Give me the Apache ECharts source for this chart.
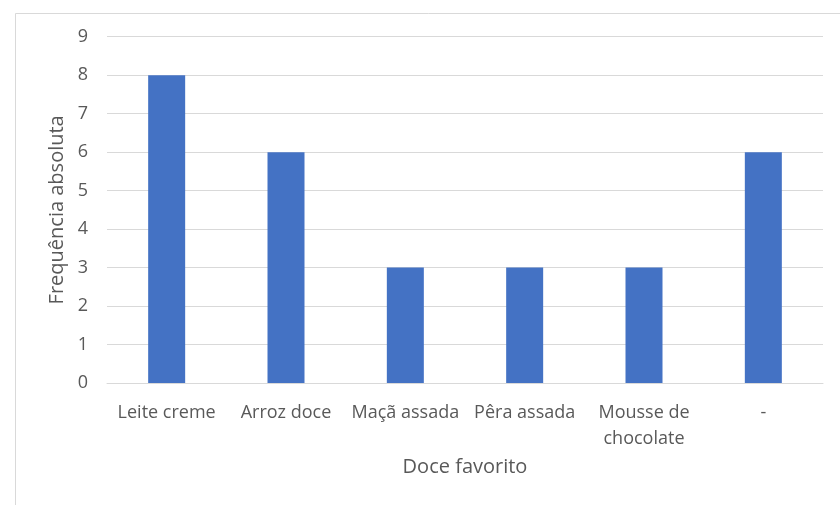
<!DOCTYPE html>
<html><head><meta charset="utf-8">
<script src="https://cdn.jsdelivr.net/npm/echarts@6/dist/echarts.min.js"></script>
<style>html,body{margin:0;padding:0;background:#fff}#c{width:840px;height:505px}</style>
</head><body><div id="c"></div>
<script>
const categories = ['Leite creme', 'Arroz doce', 'Maçã assada', 'Pêra assada', 'Mousse de\nchocolate', '-'];
const values = [8, 6, 3, 3, 3, 6];
const yTicks = [0, 1, 2, 3, 4, 5, 6, 7, 8, 9];
const xName = 'Doce favorito';
const yName = 'Frequência absoluta';

const font = '"Open Sans", "Noto Sans", sans-serif';
const chart = echarts.init(document.getElementById('c'), null, {renderer: 'canvas'});
chart.setOption({
  animation: false,
  backgroundColor: '#fff',
  graphic: [{
    type: 'rect', left: 13, top: 11, shape: {width: 900, height: 600},
    style: {fill: 'none', stroke: '#d9d9d9', lineWidth: 1}, silent: true
  }],
  grid: {left: 107, right: 17, top: 36.7, bottom: 122},
  xAxis: {
    type: 'category', data: categories,
    name: xName, nameLocation: 'middle', nameGap: 71,
    nameTextStyle: {fontFamily: font, fontSize: 20, color: '#595959'},
    axisLine: {show: true, lineStyle: {color: '#d9d9d9', width: 1}},
    axisTick: {show: false},
    axisLabel: {fontFamily: font, fontSize: 18, color: '#595959', margin: 17, lineHeight: 26, interval: 0}
  },
  yAxis: {
    type: 'value', min: 0, max: 9, interval: 1,
    name: yName, nameLocation: 'middle', nameGap: 39,
    nameTextStyle: {fontFamily: font, fontSize: 20, color: '#595959'},
    axisLine: {show: false}, axisTick: {show: false},
    splitLine: {lineStyle: {color: '#d9d9d9', width: 1}},
    axisLabel: {fontFamily: font, fontSize: 18, color: '#595959', margin: 19,
      formatter: v => yTicks.includes(v) ? String(v) : ''}
  },
  series: [{
    type: 'bar', data: values, barWidth: 37,
    itemStyle: {color: '#4472C4'}
  }]
});
</script></body></html>
